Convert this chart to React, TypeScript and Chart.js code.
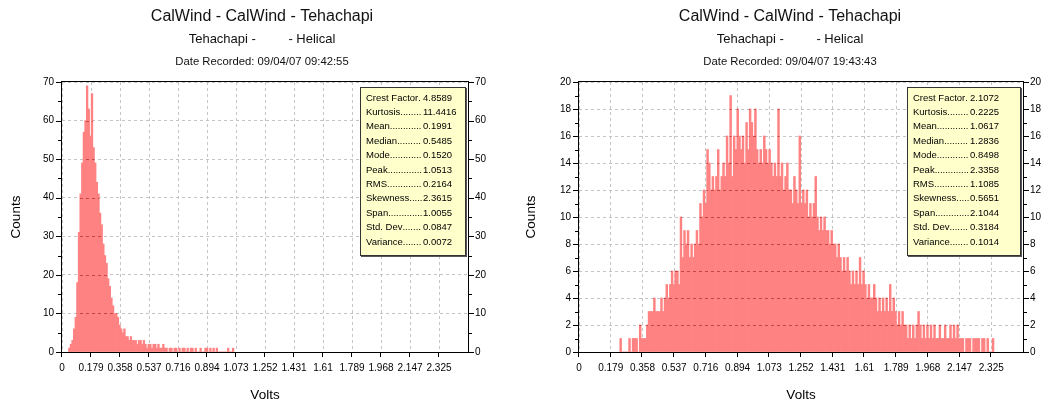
import React, { useEffect, useRef } from 'react';
import { Chart, registerables } from 'chart.js';

Chart.register(...registerables);

const FONT = '"Liberation Sans", Arial, Helvetica, sans-serif';

// ---------- data ----------
const binWidth = 0.01;

const leftBinStart = 0.04;
const leftCounts = [
  1, 2, 3, 6, 9, 18, 31, 41, 49, 57,
  60, 69, 63, 56, 67, 53, 49, 44, 41, 36,
  33, 28, 25, 23, 19, 17, 14, 12, 10, 10,
  9, 7, 6, 5, 6, 4, 4, 3, 4, 3,
  3, 3, 2, 3, 3, 2, 3, 2, 1, 2,
  2, 1, 2, 2, 1, 2, 1, 1, 2, 1,
  1, 0, 1, 1, 0, 1, 1, 0, 1, 0,
  1, 1, 0, 1, 0, 1, 1, 0, 1, 0,
  0, 1, 0, 0, 1, 1, 0, 1, 0, 1,
  0, 1, 0, 0, 0, 0, 0, 0, 1, 0, 0, 1,
];

const rightBinStart = 0.23;
const rightCounts = [
  1, 0, 0, 0, 0, 1, 0, 1, 1, 1,
  0, 2, 1, 1, 1, 2, 3, 3, 3, 4,
  3, 3, 3, 4, 3, 4, 5, 4, 5, 6,
  5, 6, 6, 5, 10, 7, 9, 8, 9, 7,
  8, 7, 8, 9, 8, 11, 10, 12, 11, 15,
  14, 12, 13, 12, 13, 15, 12, 13, 14, 13,
  16, 14, 19, 13, 16, 15, 18, 16, 15, 16,
  14, 17, 15, 18, 17, 16, 18, 15, 14, 15,
  14, 16, 15, 14, 15, 14, 13, 14, 13, 18,
  13, 14, 12, 13, 14, 12, 12, 11, 13, 12,
  11, 16, 11, 12, 11, 12, 10, 11, 10, 11,
  13, 10, 9, 10, 9, 10, 9, 9, 8, 9,
  8, 8, 7, 8, 7, 6, 7, 6, 7, 6,
  5, 6, 5, 6, 5, 7, 5, 6, 5, 4,
  5, 4, 4, 5, 4, 3, 4, 3, 4, 3,
  4, 3, 5, 3, 4, 3, 2, 3, 2, 3,
  2, 2, 1, 2, 1, 2, 1, 2, 3, 2,
  1, 2, 1, 2, 1, 2, 1, 2, 1, 1,
  2, 1, 1, 2, 1, 1, 2, 1, 2, 1,
  2, 1, 1, 1, 0, 1, 1, 1, 0, 1,
  1, 1, 1, 0, 1, 1, 0, 1, 0, 0, 1,
];

const xTickLabels = ['0', '0.179', '0.358', '0.537', '0.716', '0.894', '1.073', '1.252', '1.431', '1.61', '1.789', '1.968', '2.147', '2.325'];
const xTickStep = 2.325 / 13;
const xMax = xTickStep * 14;

const leftYMax = 70;
const leftYStep = 10;
const rightYMax = 20;
const rightYStep = 2;

const titleText = 'CalWind - CalWind - Tehachapi';
const subtitleText = 'Tehachapi -         - Helical';
const leftDate = 'Date Recorded: 09/04/07 09:42:55';
const rightDate = 'Date Recorded: 09/04/07 19:43:43';
const xTitle = 'Volts';
const yTitle = 'Counts';

const statLabels = ['Crest Factor', 'Kurtosis', 'Mean', 'Median', 'Mode', 'Peak', 'RMS', 'Skewness', 'Span', 'Std. Dev', 'Variance'];
const leftStatValues = ['4.8589', '11.4416', '0.1991', '0.5485', '0.1520', '1.0513', '0.2164', '2.3615', '1.0055', '0.0847', '0.0072'];
const rightStatValues = ['2.1072', '0.2225', '1.0617', '1.2836', '0.8498', '2.3358', '1.1085', '0.5651', '2.1044', '0.3184', '0.1014'];

// ---------- layout ----------
type PanelCfg = {
  left: number;
  width: number;
  counts: number[];
  binStart: number;
  yMax: number;
  yStep: number;
  yAxisWidth: number;
  y2Width: number;
  titleX: number;
  date: string;
  statValues: string[];
  box: { x: number; y: number; w: number; h: number };
  yTitlePad: number;
};

const panels: PanelCfg[] = [
  {
    left: 0, width: 522, counts: leftCounts, binStart: leftBinStart,
    yMax: leftYMax, yStep: leftYStep, yAxisWidth: 62, y2Width: 54,
    titleX: 262, date: leftDate, statValues: leftStatValues,
    box: { x: 360, y: 87, w: 106, h: 169 }, yTitlePad: 7.9,
  },
  {
    left: 522, width: 523, counts: rightCounts, binStart: rightBinStart,
    yMax: rightYMax, yStep: rightYStep, yAxisWidth: 57, y2Width: 22,
    titleX: 268, date: rightDate, statValues: rightStatValues,
    box: { x: 385, y: 87, w: 114, h: 169 }, yTitlePad: 1,
  },
];

function makePlugin(cfg: PanelCfg) {
  return {
    id: 'histDecor',
    afterDatasetsDraw(chart: any) {
      const ctx = chart.ctx as CanvasRenderingContext2D;
      const { left, right, top, bottom } = chart.chartArea;
      ctx.save();
      // grid lines showing through the bars (clipped to the bar shapes)
      const bars = chart.getDatasetMeta(0).data;
      ctx.save();
      ctx.beginPath();
      bars.forEach((bar: any) => {
        const p = bar.getProps(['x', 'y', 'base', 'width'], true);
        if (p.base - p.y > 0.5) ctx.rect(p.x - p.width / 2, p.y, p.width, p.base - p.y);
      });
      ctx.clip();
      ctx.strokeStyle = 'rgba(150,20,20,0.55)';
      ctx.setLineDash([3, 3]);
      ctx.lineWidth = 1;
      ctx.beginPath();
      chart.scales.y.ticks.forEach((t: any) => {
        const py = Math.round(chart.scales.y.getPixelForValue(t.value)) + 0.5;
        ctx.moveTo(left, py);
        ctx.lineTo(right, py);
      });
      ctx.stroke();
      ctx.restore();

      ctx.strokeStyle = '#000';
      ctx.lineWidth = 1;
      ctx.setLineDash([]);
      ctx.strokeRect(left - 0.5, top - 0.5, right - left + 1, bottom - top + 1);
      const ys = chart.scales.y;
      const half = cfg.yStep / 2;
      const n = Math.round(cfg.yMax / half);
      ctx.beginPath();
      for (let k = 0; k <= n; k++) {
        const v = k * half;
        const py = Math.round(ys.getPixelForValue(v)) + 0.5;
        const len = k % 2 === 0 ? 5 : 3;
        ctx.moveTo(left - 1 - len, py);
        ctx.lineTo(left - 1, py);
        ctx.moveTo(right, py);
        ctx.lineTo(right + len + 1, py);
      }
      const xs = chart.scales.x;
      xs.ticks.forEach((t: any) => {
        const px = Math.round(xs.getPixelForValue(t.value)) - 0.5;
        ctx.moveTo(px, bottom);
        ctx.lineTo(px, bottom + 5);
      });
      ctx.stroke();
      ctx.restore();
    },
    afterDraw(chart: any) {
      const ctx = chart.ctx as CanvasRenderingContext2D;
      ctx.save();
      ctx.fillStyle = '#111';
      ctx.textAlign = 'center';
      ctx.textBaseline = 'alphabetic';
      ctx.font = `16px ${FONT}`;
      ctx.fillText(titleText, cfg.titleX, 20.5);
      ctx.font = `13px ${FONT}`;
      ctx.fillText(subtitleText, cfg.titleX, 42.5);
      ctx.font = `11.3px ${FONT}`;
      ctx.fillText(cfg.date, cfg.titleX, 65);

      // stats box
      const b = cfg.box;
      ctx.fillStyle = '#555';
      ctx.fillRect(b.x + 1, b.y + 1, b.w, b.h);
      ctx.fillStyle = '#ffffcc';
      ctx.fillRect(b.x, b.y, b.w, b.h);
      ctx.strokeStyle = '#333';
      ctx.lineWidth = 1;
      ctx.strokeRect(b.x + 0.5, b.y + 0.5, b.w - 1, b.h - 1);
      ctx.font = `9.5px ${FONT}`;
      ctx.fillStyle = '#000';
      ctx.textAlign = 'left';
      const dotW = ctx.measureText('.').width;
      statLabels.forEach((lab, i) => {
        const y = b.y + 13.5 + i * 14.4;
        const lx = b.x + 6;
        const vx = b.x + 63;
        ctx.fillText(lab, lx, y);
        const lw = ctx.measureText(lab).width;
        const nd = Math.max(0, Math.floor((vx - lx - lw - 0.3) / dotW));
        ctx.fillText('.'.repeat(nd), lx + lw, y);
        ctx.fillText(cfg.statValues[i], vx, y);
      });
      ctx.restore();
    },
  };
}

function HistPanel({ cfg }: { cfg: PanelCfg }) {
  const ref = useRef<HTMLCanvasElement>(null);
  useEffect(() => {
    const canvas = ref.current;
    if (!canvas) return;
    const points = cfg.counts.map((c, i) => ({ x: cfg.binStart + (i + 0.5) * binWidth, y: c }));
    const tickFont = { family: FONT, size: 10 };
    const titleFont = { family: FONT, size: 13.5, lineHeight: 1.2 };
    const chart = new Chart(canvas, {
      type: 'bar',
      data: {
        datasets: [
          {
            data: points as any,
            backgroundColor: '#ff8282',
            borderWidth: 0,
            barPercentage: 1,
            categoryPercentage: 1,
            inflateAmount: 0.35,
          } as any,
        ],
      },
      options: {
        animation: false,
        responsive: false,
        maintainAspectRatio: false,
        devicePixelRatio: 1,
        layout: { padding: { top: 82, left: 0, right: 0, bottom: 0 } },
        plugins: {
          legend: { display: false },
          tooltip: { enabled: false },
          title: { display: false },
        },
        scales: {
          x: {
            type: 'linear',
            min: 0,
            max: xMax,
            offset: false,
            afterBuildTicks: (scale: any) => {
              scale.ticks = xTickLabels.map((_, i) => ({ value: i * xTickStep }));
            },
            afterFit: (scale: any) => {
              scale.height = 54;
            },
            ticks: {
              autoSkip: false,
              maxRotation: 0,
              minRotation: 0,
              padding: 10,
              color: '#000',
              font: tickFont,
              callback: (_v: any, i: number) => xTickLabels[i],
            },
            grid: { color: '#c4c4c4', drawTicks: false, offset: false, lineWidth: 1 },
            border: { display: false, dash: [3, 3] },
            title: { display: true, text: xTitle, color: '#000', font: titleFont, padding: { top: 0, bottom: 2.6 } },
          },
          y: {
            type: 'linear',
            position: 'left',
            min: 0,
            max: cfg.yMax,
            afterFit: (scale: any) => {
              scale.width = cfg.yAxisWidth;
            },
            ticks: { stepSize: cfg.yStep, padding: 8, color: '#000', font: tickFont },
            grid: { color: '#c4c4c4', drawTicks: false, lineWidth: 1 },
            border: { display: false, dash: [3, 3] },
            title: { display: true, text: yTitle, color: '#000', font: titleFont, padding: { top: cfg.yTitlePad, bottom: 0 } },
          },
          y2: {
            type: 'linear',
            position: 'right',
            min: 0,
            max: cfg.yMax,
            afterFit: (scale: any) => {
              scale.width = cfg.y2Width;
            },
            ticks: { stepSize: cfg.yStep, padding: 7, color: '#000', font: tickFont },
            grid: { display: false, drawTicks: false },
            border: { display: false },
          },
        },
      } as any,
      plugins: [makePlugin(cfg)],
    });
    return () => chart.destroy();
  }, [cfg]);
  return (
    <canvas
      ref={ref}
      width={cfg.width}
      height={406}
      style={{ position: 'absolute', left: cfg.left, top: 0, width: cfg.width, height: 406, display: 'block' }}
    />
  );
}

export default function App() {
  return (
    <div style={{ position: 'fixed', left: 0, top: 0, width: 1045, height: 406, background: '#fff', overflow: 'hidden' }}>
      {panels.map((p, i) => (
        <HistPanel key={i} cfg={p} />
      ))}
    </div>
  );
}
